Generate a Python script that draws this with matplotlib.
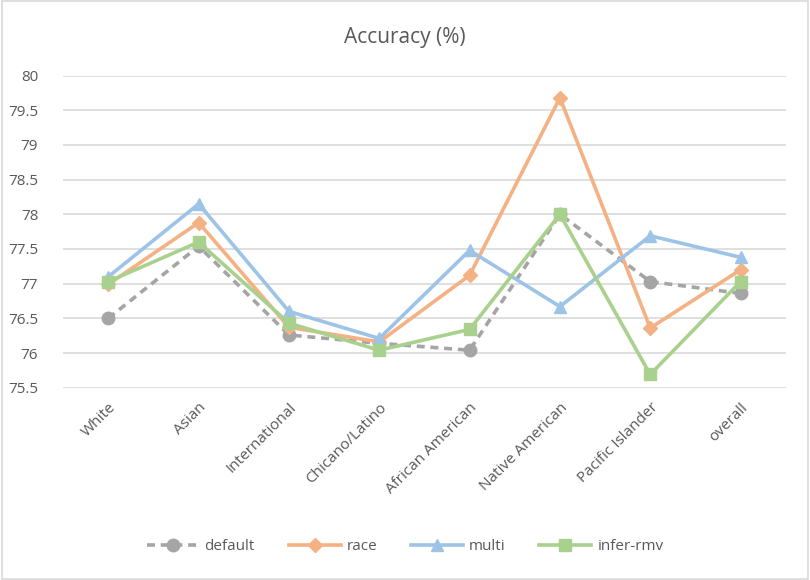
import matplotlib.pyplot as plt
from matplotlib.patches import Rectangle

groups = ["White", "Asian", "International", "Chicano/Latino", "African American",
          "Native American", "Pacific Islander", "overall"]
default = [76.50, 77.54, 76.26, 76.14, 76.04, 78.00, 77.03, 76.86]
race = [76.99, 77.88, 76.37, 76.16, 77.12, 79.68, 76.36, 77.20]
multi = [77.10, 78.15, 76.60, 76.21, 77.48, 76.67, 77.69, 77.38]
infer_rmv = [77.03, 77.60, 76.43, 76.04, 76.34, 78.00, 75.69, 77.03]

plt.rcParams['font.family'] = ['Open Sans', 'DejaVu Sans']
txt = '#595959'

fig = plt.figure(figsize=(8.1, 5.8), dpi=100)
ax = fig.add_axes([0.078, 0.3316, 0.892, 0.538])

x = range(len(groups))
ax.plot(x, default, color='#A5A5A5', lw=2.6, ls=(0, (2.2, 1.6)), marker='o', ms=9,
        label='default', zorder=2)
ax.plot(x, race, color='#F4B183', lw=2.6, marker='D', ms=7.5, label='race', zorder=3)
ax.plot(x, multi, color='#9DC3E6', lw=2.6, marker='^', ms=9, label='multi', zorder=4)
ax.plot(x, infer_rmv, color='#A9D18E', lw=2.6, marker='s', ms=8.5, label='infer-rmv', zorder=5)

ax.set_xlim(-0.5, 7.5)
ax.set_ylim(75.5, 80)
ax.set_yticks([75.5, 76, 76.5, 77, 77.5, 78, 78.5, 79, 79.5, 80])
ax.set_yticklabels(['75.5', '76', '76.5', '77', '77.5', '78', '78.5', '79', '79.5', '80'])
ax.set_xticks(list(x))
ax.set_xticklabels(groups, rotation=45, ha='right', rotation_mode='anchor')
ax.tick_params(axis='both', length=0, colors=txt, labelsize=11)
ax.tick_params(axis='y', pad=18)
ax.tick_params(axis='x', pad=9)
ax.grid(axis='y', color='#D9D9D9', lw=1.2)
ax.set_axisbelow(True)
for s in ax.spines.values():
    s.set_visible(False)

fig.text(0.5, 0.935, 'Accuracy (%)', ha='center', va='center', fontsize=15, color=txt)
fig.legend(loc='center', bbox_to_anchor=(0.5, 0.057), ncol=4, frameon=False,
           fontsize=11, labelcolor=txt, handlelength=3.4, columnspacing=2.2,
           handletextpad=0.4)

fig.patches.append(Rectangle((0.002, 0.002), 0.996, 0.996, transform=fig.transFigure,
                             fill=False, edgecolor='#D9D9D9', lw=1.2))

fig.savefig('out.png', dpi=100)
